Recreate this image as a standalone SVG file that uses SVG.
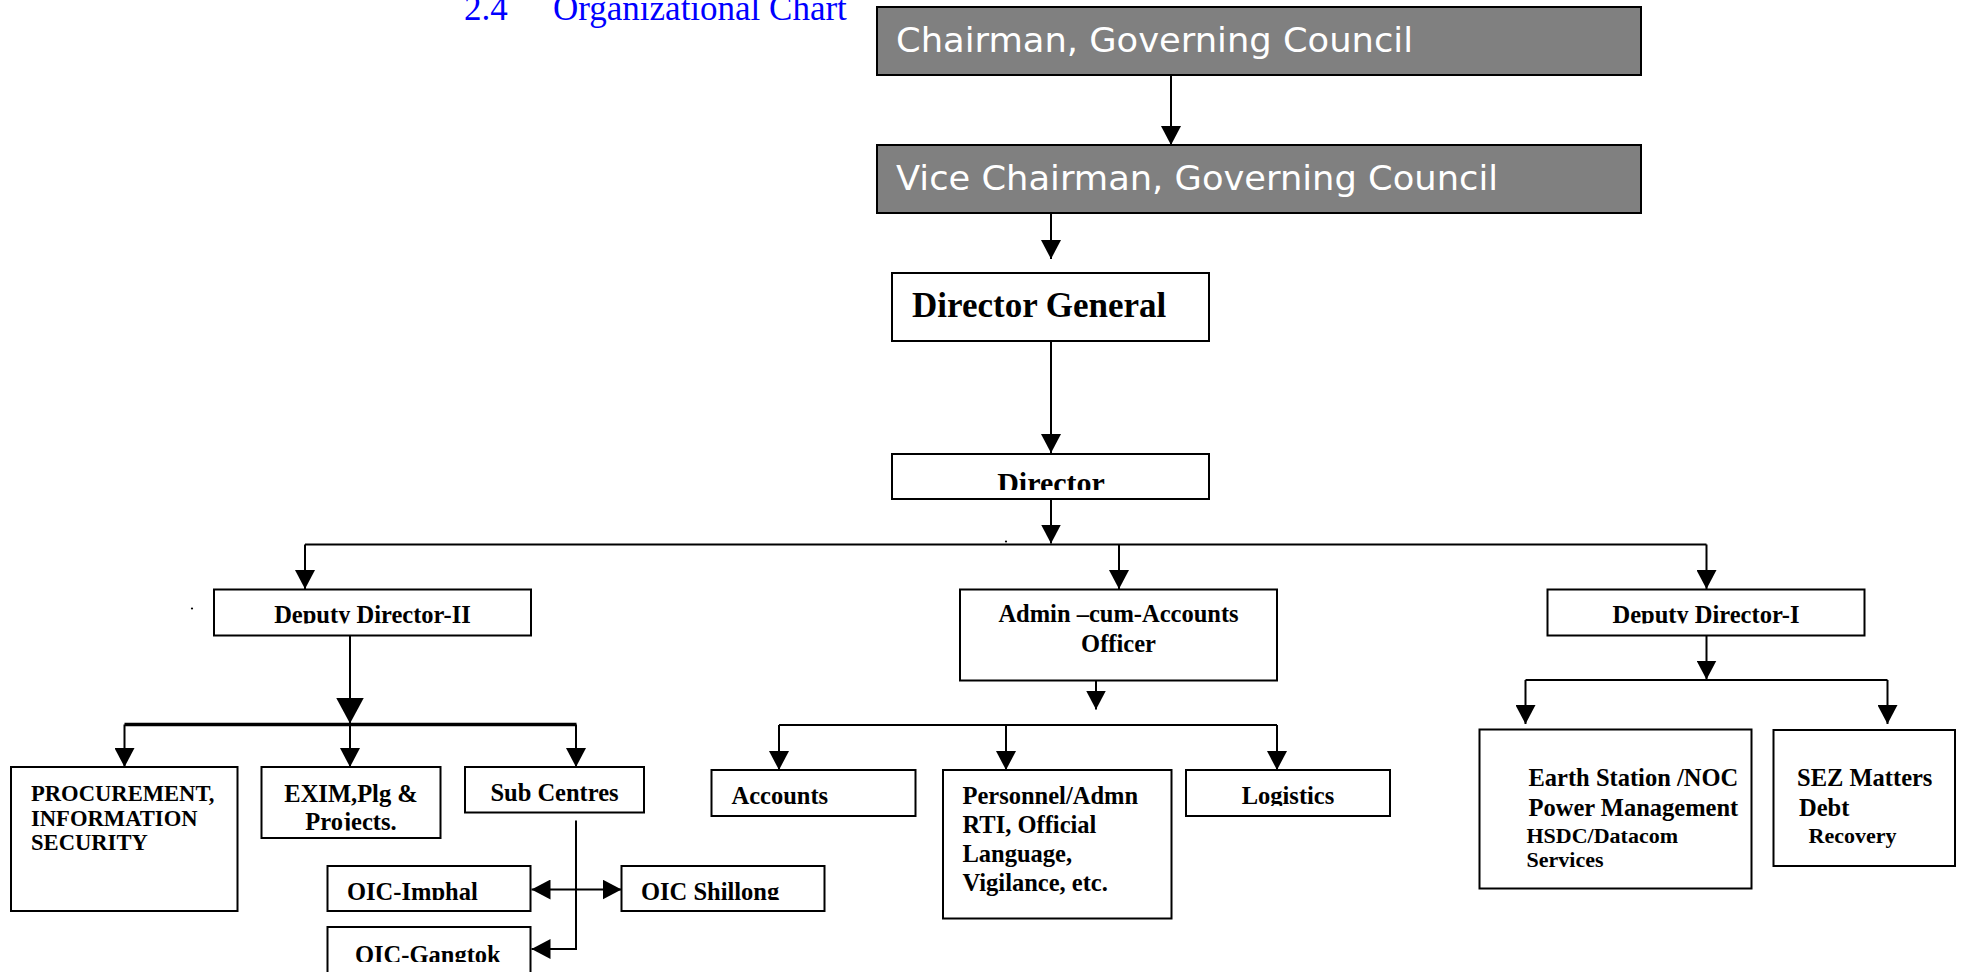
<svg xmlns="http://www.w3.org/2000/svg" width="1967" height="972" viewBox="0 0 1967 972">
<style>
.box{fill:#fff;stroke:#000;stroke-width:2}
.gbox{fill:#808080;stroke:#000;stroke-width:2}
.gt{font-family:"DejaVu Sans",Verdana,sans-serif;font-size:34px;fill:#fff}
.t{font-family:"Liberation Serif","Times New Roman",serif;font-weight:bold;font-size:24.5px;fill:#000}
.ts{font-size:22px}
.tp{font-size:22.6px}
.c{text-anchor:middle}
.ln{fill:none;stroke:#000;stroke-width:2}
.thick{fill:none;stroke:#000;stroke-width:3.5}
.title{font-family:"Liberation Serif","Times New Roman",serif;font-size:35px;fill:#0000ff}
</style>
<defs>
<marker id="ah" viewBox="0 0 19 20" refX="19" refY="10" markerWidth="19" markerHeight="20" markerUnits="userSpaceOnUse" orient="auto"><path d="M0,0 L19,10 L0,20 z" fill="#000"/></marker>
<marker id="ahs" viewBox="0 0 19 20" refX="19" refY="10" markerWidth="19" markerHeight="20" markerUnits="userSpaceOnUse" orient="auto-start-reverse"><path d="M0,0 L19,10 L0,20 z" fill="#000"/></marker>
<marker id="big" viewBox="0 0 26 28" refX="26" refY="14" markerWidth="26" markerHeight="28" markerUnits="userSpaceOnUse" orient="auto"><path d="M0,0 L26,14 L0,28 z" fill="#000"/></marker>
<clipPath id="cDir"><rect x="892" y="454" width="317" height="36"/></clipPath>
<clipPath id="cDD2"><rect x="214" y="589" width="317" height="34.5"/></clipPath>
<clipPath id="cDD1"><rect x="1547" y="589" width="318" height="34.5"/></clipPath>
<clipPath id="cExim"><rect x="261" y="766" width="180" height="64.5"/></clipPath>
<clipPath id="cLog"><rect x="1186" y="770" width="204" height="36"/></clipPath>
<clipPath id="cImp"><rect x="327" y="865" width="204" height="35"/></clipPath>
<clipPath id="cShi"><rect x="621" y="865" width="204" height="35"/></clipPath>
<clipPath id="cGan"><rect x="327" y="927" width="204" height="35"/></clipPath>
</defs>
<rect width="1967" height="972" fill="#fff"/>

<g id="title">
<text class="title" x="464" y="20">2.4</text>
<text class="title" x="553" y="20">Organizational Chart</text>
</g>

<g id="connectors">
<path class="ln" d="M1171,75 V145" marker-end="url(#ah)"/>
<path class="ln" d="M1051,213 V259" marker-end="url(#ah)"/>
<path class="ln" d="M1051,341 V453" marker-end="url(#ah)"/>
<path class="ln" d="M1051,499 V543.5" marker-end="url(#ah)"/>
<path class="ln" d="M305,544.5 H1706.5"/>
<path class="ln" d="M305,544.5 V589" marker-end="url(#ah)"/>
<path class="ln" d="M1119,544.5 V589" marker-end="url(#ah)"/>
<path class="ln" d="M1706.5,544.5 V589" marker-end="url(#ah)"/>
<path class="ln" d="M350,635 V723.5" marker-end="url(#big)"/>
<path class="thick" d="M124.5,724.5 H576.5"/>
<path class="ln" d="M124.5,724.5 V767" marker-end="url(#ah)"/>
<path class="ln" d="M350,724.5 V767" marker-end="url(#ah)"/>
<path class="ln" d="M576,724.5 V767" marker-end="url(#ah)"/>
<path class="ln" d="M576,820.5 V949 H531.5" marker-end="url(#ah)"/>
<path class="ln" d="M531.5,889.5 H621.5" marker-start="url(#ahs)" marker-end="url(#ah)"/>
<path class="ln" d="M1096,681 V709.5" marker-end="url(#ah)"/>
<path class="ln" d="M779,725 H1277"/>
<path class="ln" d="M779,725 V770" marker-end="url(#ah)"/>
<path class="ln" d="M1006,725 V770" marker-end="url(#ah)"/>
<path class="ln" d="M1277,725 V770" marker-end="url(#ah)"/>
<path class="ln" d="M1706.5,635 V679.5" marker-end="url(#ah)"/>
<path class="ln" d="M1525.5,680 H1887.5"/>
<path class="ln" d="M1525.5,680 V724" marker-end="url(#ah)"/>
<path class="ln" d="M1887.5,680 V724" marker-end="url(#ah)"/>
<circle cx="1006" cy="541.5" r="1.1" fill="#000"/>
<circle cx="192" cy="608.5" r="1.1" fill="#000"/>
</g>

<g id="chairman">
<rect class="gbox" x="877" y="7" width="764" height="68"/>
<text class="gt" x="896" y="51.5" textLength="517" lengthAdjust="spacingAndGlyphs">Chairman, Governing Council</text>
</g>

<g id="vice-chairman">
<rect class="gbox" x="877" y="145" width="764" height="68"/>
<text class="gt" x="896" y="190" textLength="602" lengthAdjust="spacingAndGlyphs">Vice Chairman, Governing Council</text>
</g>

<g id="director-general">
<rect class="box" x="892" y="273" width="317" height="68"/>
<text class="t" x="912" y="317" style="font-size:35px">Director General</text>
</g>

<g id="director">
<rect class="box" x="892" y="454" width="317" height="45"/>
<text class="t c" x="1051" y="492.5" style="font-size:30px" clip-path="url(#cDir)">Director</text>
</g>

<g id="deputy-director-2">
<rect class="box" x="214" y="589.5" width="317" height="46"/>
<text class="t c" x="372.5" y="622.5" clip-path="url(#cDD2)">Deputy Director-II</text>
</g>

<g id="admin-accounts-officer">
<rect class="box" x="960" y="589.5" width="317" height="91"/>
<text class="t c" x="1118.5" y="621.5">Admin –cum-Accounts</text>
<text class="t c" x="1118.5" y="651.5">Officer</text>
</g>

<g id="deputy-director-1">
<rect class="box" x="1547.5" y="589.5" width="317" height="46"/>
<text class="t c" x="1706" y="622.5" clip-path="url(#cDD1)">Deputy Director-I</text>
</g>

<g id="procurement">
<rect class="box" x="11" y="767" width="226.5" height="144"/>
<text class="t tp" x="31" y="801">PROCUREMENT,</text>
<text class="t tp" x="31" y="825.5">INFORMATION</text>
<text class="t tp" x="31" y="850">SECURITY</text>
</g>

<g id="exim">
<rect class="box" x="261.5" y="767" width="179" height="71"/>
<text class="t c" x="351" y="801.5" clip-path="url(#cExim)">EXIM,Plg &amp;</text>
<text class="t c" x="351" y="830" clip-path="url(#cExim)">Projects.</text>
</g>

<g id="sub-centres">
<rect class="box" x="465" y="767" width="179" height="45.5"/>
<text class="t c" x="554.5" y="800.5">Sub Centres</text>
</g>

<g id="oic-imphal">
<rect class="box" x="327.5" y="866" width="203" height="45"/>
<text class="t" x="347" y="899.5" clip-path="url(#cImp)">OIC-Imphal</text>
</g>

<g id="oic-shillong">
<rect class="box" x="621.5" y="866" width="203" height="45"/>
<text class="t" x="641" y="899.5" clip-path="url(#cShi)">OIC Shillong</text>
</g>

<g id="oic-gangtok">
<rect class="box" x="327.5" y="927" width="203" height="50"/>
<text class="t" x="355" y="963" clip-path="url(#cGan)">OIC-Gangtok</text>
</g>

<g id="accounts">
<rect class="box" x="711.5" y="770" width="204" height="46"/>
<text class="t" x="731.5" y="804">Accounts</text>
</g>

<g id="personnel">
<rect class="box" x="943" y="770" width="228.5" height="148.5"/>
<text class="t" x="962.5" y="803.5">Personnel/Admn</text>
<text class="t" x="962.5" y="832.5">RTI, Official</text>
<text class="t" x="962.5" y="861.5">Language,</text>
<text class="t" x="962.5" y="890.5">Vigilance, etc.</text>
</g>

<g id="logistics">
<rect class="box" x="1186" y="770" width="204" height="46"/>
<text class="t c" x="1288" y="803.5" clip-path="url(#cLog)">Logistics</text>
</g>

<g id="earth-station">
<rect class="box" x="1479.5" y="729.5" width="272" height="159"/>
<text class="t" x="1528.5" y="786">Earth Station /NOC</text>
<text class="t" x="1528.5" y="816">Power Management</text>
<text class="t ts" x="1526.5" y="842.5">HSDC/Datacom</text>
<text class="t ts" x="1526.5" y="866.5">Services</text>
</g>

<g id="sez-matters">
<rect class="box" x="1773.5" y="730" width="181.5" height="136"/>
<text class="t" x="1797" y="786">SEZ Matters</text>
<text class="t" x="1799" y="816">Debt</text>
<text class="t ts" x="1808.5" y="842.5">Recovery</text>
</g>
</svg>
